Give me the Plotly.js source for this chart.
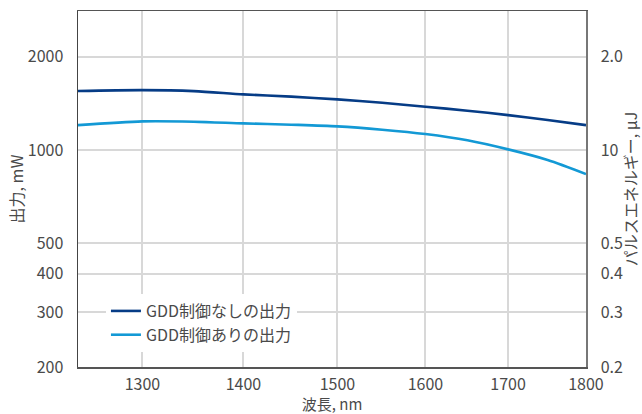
<!DOCTYPE html>
<html>
<head>
<meta charset="utf-8">
<script src="https://cdn.plot.ly/plotly-3.0.1.min.js"></script>
<style>html,body{margin:0;padding:0;background:#fff;}#chart{width:642px;height:414px;}</style>
</head>
<body>
<div id="chart"></div>
<script>
const wavelength = [1240, 1300, 1350, 1400, 1450, 1500, 1550, 1600, 1650, 1700, 1750, 1800];
const powerNoGDD = [1550, 1560, 1548, 1511, 1486, 1456, 1420, 1379, 1339, 1296, 1249, 1203];
const powerGDD = [1203, 1237, 1234, 1219, 1207, 1192, 1163, 1126, 1075, 1005, 929, 837];
const seriesNames = ["GDD制御なしの出力", "GDD制御ありの出力"];
const xTickVals = [1300, 1400, 1500, 1600, 1700, 1800];
const xTickText = ["1300", "1400", "1500", "1600", "1700", "1800"];
const yTickVals = [200, 300, 400, 500, 1000, 2000];
const yTickText = ["200", "300", "400", "500", "1000", "2000"];
const y2TickText = ["0.2", "0.3", "0.4", "0.5", "10", "2.0"];

const FONT = '"Noto Sans CJK JP", "Open Sans", sans-serif';
const TXT = '#4a4a4a';
const GRID = '#d8d8d8';
const yRange = [Math.log10(200), 3.448];
const xRange = [Math.log10(1240), Math.log10(1800)];

const traces = [
  {x: wavelength, y: powerNoGDD, name: seriesNames[0], mode: 'lines',
   line: {color: '#063c86', width: 2.6, shape: 'spline', smoothing: 0.8}},
  {x: wavelength, y: powerGDD, name: seriesNames[1], mode: 'lines',
   line: {color: '#1399d5', width: 2.6, shape: 'spline', smoothing: 0.8}},
  {x: [wavelength[0]], y: [powerGDD[0]], yaxis: 'y2', mode: 'markers',
   marker: {opacity: 0}, showlegend: false, hoverinfo: 'skip'}
];

const layout = {
  width: 642, height: 414,
  margin: {l: 78, r: 56, t: 11, b: 47, pad: 0},
  paper_bgcolor: '#fff', plot_bgcolor: '#fff',
  font: {family: FONT, size: 16, color: TXT},
  showlegend: true,
  legend: {x: 0.055, y: 0.205, xanchor: 'left', yanchor: 'top', bgcolor: '#fff',
           font: {family: FONT, size: 16, color: TXT}, tracegroupgap: 0},
  xaxis: {type: 'log', range: xRange, tickvals: xTickVals, ticktext: xTickText,
          showgrid: true, gridcolor: GRID, gridwidth: 2,
          showline: true, linecolor: '#555', linewidth: 1.5, mirror: true,
          ticks: '', ticklabelstandoff: 2, zeroline: false,
          tickfont: {family: FONT, size: 16, color: TXT},
          title: {text: '波長, nm', font: {family: FONT, size: 15, color: TXT}, standoff: 12}},
  yaxis: {type: 'log', range: yRange, tickvals: yTickVals, ticktext: yTickText,
          showgrid: true, gridcolor: GRID, gridwidth: 2,
          showline: true, linecolor: '#444', linewidth: 1.5,
          ticks: '', ticklabelstandoff: 10, zeroline: false,
          tickfont: {family: FONT, size: 16, color: TXT},
          title: {text: '出力, mW', font: {family: FONT, size: 16, color: TXT}, standoff: 0}},
  yaxis2: {type: 'log', range: yRange, overlaying: 'y', side: 'right',
           tickvals: yTickVals, ticktext: y2TickText,
           showgrid: false, showline: true, linecolor: '#777', linewidth: 1.5,
           ticks: '', ticklabelstandoff: 10, zeroline: false,
           tickfont: {family: FONT, size: 16, color: TXT},
           title: {text: 'パルスエネルギー, µJ', font: {family: FONT, size: 16, color: TXT}, standoff: 6}}
};

Plotly.newPlot('chart', traces, layout, {displayModeBar: false, staticPlot: true});
</script>
</body>
</html>
